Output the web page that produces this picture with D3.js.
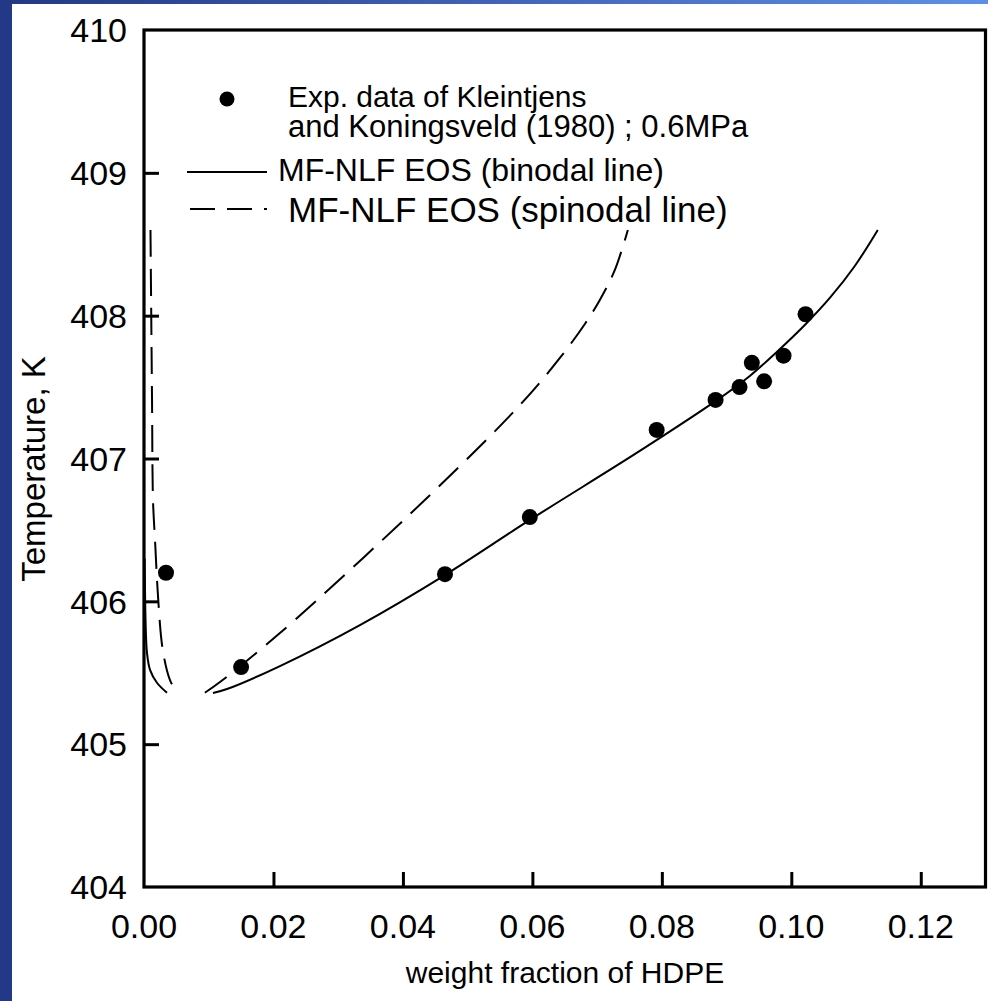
<!DOCTYPE html>
<html>
<head>
<meta charset="utf-8">
<script src="https://cdn.jsdelivr.net/npm/d3@7"></script>
<style>
  html, body { margin: 0; padding: 0; background: #fff; }
  svg { display: block; font-family: "Liberation Sans", Arial, sans-serif; }
</style>
</head>
<body>
<svg id="chart" width="988" height="1001"></svg>
<script>
// ---------- data ----------
const xTicks = [0.00, 0.02, 0.04, 0.06, 0.08, 0.10, 0.12];
const yTicks = [404, 405, 406, 407, 408, 409, 410];

// experimental data (weight fraction, temperature K)
const expX = [0.0034, 0.0150, 0.0465, 0.0596, 0.0792, 0.0883, 0.0920, 0.0939, 0.0958, 0.0988, 0.1022];
const expY = [406.20, 405.54, 406.19, 406.59, 407.20, 407.41, 407.50, 407.67, 407.54, 407.72, 408.01];

// binodal line (solid) – left branch and right branch
const binLeftX  = [0.0001, 0.00025, 0.00046, 0.00093, 0.0020, 0.00355];
const binLeftY  = [406.30, 405.85, 405.64, 405.52, 405.43, 405.36];
const binRightX = [0.01066, 0.01282, 0.0210, 0.03336, 0.04649, 0.05961, 0.0766, 0.08834, 0.09359, 0.09792, 0.10224, 0.10595, 0.10981, 0.11336];
const binRightY = [405.358, 405.386, 405.547, 405.834, 406.184, 406.570, 407.053, 407.403, 407.578, 407.753, 407.942, 408.124, 408.348, 408.600];

// spinodal line (dashed) – left branch and right branch
const spiLeftX  = [0.0010, 0.00124, 0.00139, 0.0017, 0.0022, 0.0029, 0.0040, 0.0051];
const spiLeftY  = [408.60, 407.41, 406.71, 406.43, 406.01, 405.66, 405.45, 405.36];
const spiRightX = [0.0094, 0.01174, 0.0210, 0.0442, 0.05838, 0.06425, 0.06811, 0.07042, 0.07274, 0.07475];
const spiRightY = [405.36, 405.435, 405.778, 406.745, 407.389, 407.704, 407.942, 408.110, 408.320, 408.600];

const legendLines = [
  "Exp. data of Kleintjens",
  "and Koningsveld (1980) ; 0.6MPa",
  "MF-NLF EOS (binodal line)",
  "MF-NLF EOS (spinodal line)"
];

(function () {
// ---------- layout ----------
const svg = d3.select("#chart");
const W = 988, H = 1001;
const mLeft = 144, mRight = 985.5, mTop = 30, mBottom = 887;

// background decoration (blue frame on top and left)
const defs = svg.append("defs");
const grad = defs.append("linearGradient").attr("id", "topGrad")
  .attr("x1", "0%").attr("x2", "100%").attr("y1", "0%").attr("y2", "0%");
grad.append("stop").attr("offset", "0%").attr("stop-color", "#233887");
grad.append("stop").attr("offset", "100%").attr("stop-color", "#5e8fe8");
svg.append("rect").attr("x", 0).attr("y", 0).attr("width", W).attr("height", 4).attr("fill", "url(#topGrad)");
svg.append("rect").attr("x", 0).attr("y", 0).attr("width", 12).attr("height", H).attr("fill", "#233887");

const x = d3.scaleLinear().domain([0, 0.13]).range([mLeft, mRight]);
const y = d3.scaleLinear().domain([404, 410]).range([mBottom, mTop]);

const tickFont = 34;

// axes: ticks inside, labels drawn separately
const xAxis = d3.axisBottom(x).tickValues(xTicks.filter(d => d > 0)).tickSizeInner(-15).tickSizeOuter(0).tickFormat("");
const yAxis = d3.axisLeft(y).tickValues(yTicks.filter(d => d > 404 && d < 410)).tickSizeInner(-15).tickSizeOuter(0).tickFormat("");

const gx = svg.append("g").attr("transform", `translate(0,${mBottom})`).call(xAxis);
gx.select(".domain").remove();
gx.selectAll(".tick line").attr("stroke", "#000").attr("stroke-width", 3);

const gy = svg.append("g").attr("transform", `translate(${mLeft},0)`).call(yAxis);
gy.select(".domain").remove();
gy.selectAll(".tick line").attr("stroke", "#000").attr("stroke-width", 3);

// tick labels
svg.append("g").selectAll("text").data(xTicks).join("text")
  .attr("x", d => x(d)).attr("y", 938)
  .attr("text-anchor", "middle").attr("font-size", tickFont).attr("fill", "#000")
  .text(d => d3.format(".2f")(d));

svg.append("g").selectAll("text").data(yTicks).join("text")
  .attr("x", 127).attr("y", d => y(d)).attr("dy", "0.36em")
  .attr("text-anchor", "end").attr("font-size", tickFont).attr("fill", "#000")
  .text(d => d);

// axis titles
svg.append("text").attr("x", 565).attr("y", 983)
  .attr("text-anchor", "middle").attr("font-size", 30).text("weight fraction of HDPE");
svg.append("text").attr("transform", `translate(45,469) rotate(-90)`)
  .attr("text-anchor", "middle").attr("font-size", 33).text("Temperature, K");

// curves
const line = d3.line().x(d => x(d[0])).y(d => y(d[1])).curve(d3.curveCatmullRom.alpha(0.5));
const zip = (a, b) => a.map((v, i) => [v, b[i]]);

const plot = svg.append("g");
plot.append("path").datum(zip(binLeftX, binLeftY)).attr("d", line)
  .attr("fill", "none").attr("stroke", "#000").attr("stroke-width", 2);
plot.append("path").datum(zip(binRightX, binRightY)).attr("d", line)
  .attr("fill", "none").attr("stroke", "#000").attr("stroke-width", 2);
plot.append("path").datum(zip(spiLeftX, spiLeftY)).attr("d", line)
  .attr("fill", "none").attr("stroke", "#000").attr("stroke-width", 2).attr("stroke-dasharray", "27,12");
plot.append("path").datum(zip(spiRightX, spiRightY)).attr("d", line)
  .attr("fill", "none").attr("stroke", "#000").attr("stroke-width", 2).attr("stroke-dasharray", "27,12");

plot.selectAll("circle").data(zip(expX, expY)).join("circle")
  .attr("cx", d => x(d[0])).attr("cy", d => y(d[1])).attr("r", 8).attr("fill", "#000");

// frame
svg.append("rect").attr("x", mLeft).attr("y", mTop).attr("width", mRight - mLeft).attr("height", mBottom - mTop)
  .attr("fill", "none").attr("stroke", "#000").attr("stroke-width", 3.2);

// legend
const lg = svg.append("g");
lg.append("circle").attr("cx", 227).attr("cy", 99).attr("r", 7.5).attr("fill", "#000");
lg.append("line").attr("x1", 187).attr("x2", 267).attr("y1", 172).attr("y2", 172)
  .attr("stroke", "#000").attr("stroke-width", 2);
lg.append("line").attr("x1", 190).attr("x2", 267).attr("y1", 209).attr("y2", 209)
  .attr("stroke", "#000").attr("stroke-width", 2).attr("stroke-dasharray", "25,12");
const legX = [288, 288, 278, 288];
const legY = [107, 137, 181, 222];
const legF = [30, 31, 32, 35];
lg.selectAll("text").data(legendLines).join("text")
  .attr("x", (d, i) => legX[i]).attr("y", (d, i) => legY[i])
  .attr("font-size", (d, i) => legF[i]).attr("fill", "#000").text(d => d);
})();
</script>
</body>
</html>
